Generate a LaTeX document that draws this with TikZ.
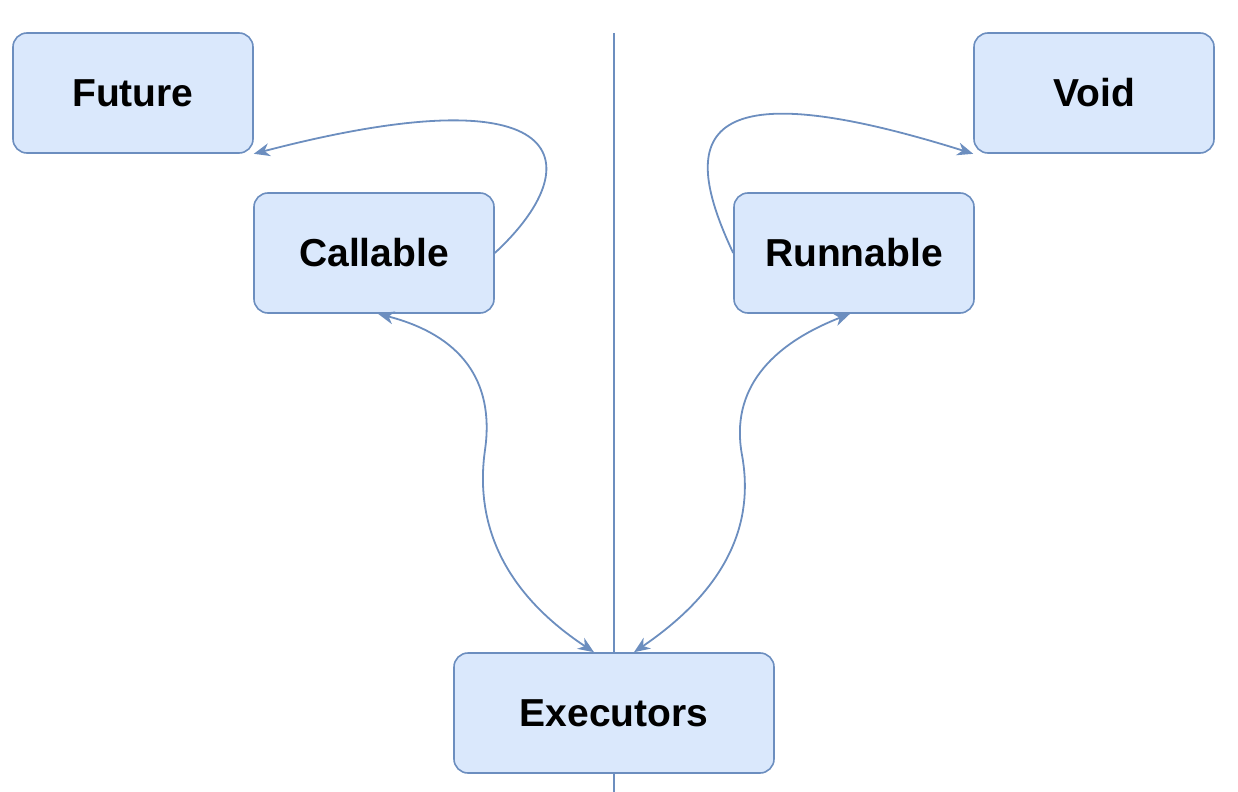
\documentclass[tikz,border=0pt]{standalone}
\usepackage{fontspec}
\setmainfont{Liberation Sans}
\usepackage{xcolor}
\usetikzlibrary{arrows.meta,positioning}

\definecolor{boxfill}{HTML}{DAE8FC}
\definecolor{boxline}{HTML}{6C8EBF}

\tikzset{
    box/.style={draw=boxline, fill=boxfill, line width=0.8pt, rounded corners=7pt,
        minimum width=120pt, minimum height=60pt, inner sep=0pt,
        font=\fontsize{19.5}{23}\selectfont\bfseries},
    link/.style={draw=boxline, line width=0.9pt,
        -{Stealth[length=8pt,width=6.5pt,inset=2.5pt]}},
    biLink/.style={link, {Stealth[length=8pt,width=6.5pt,inset=2.5pt]}-{Stealth[length=8pt,width=6.5pt,inset=2.5pt]}}
}

\begin{document}
\begin{tikzpicture}[x=0.5pt, y=-0.5pt]
    \useasboundingbox (0,0) rectangle (1238,792);

    % separator behind the boxes
    \coordinate (sepTop) at (614,33);
    \coordinate (sepBot) at (614,792);
    \draw[boxline, line width=0.9pt] (sepTop) -- (sepBot);

    \node[box] (future)   at (133,93)  {Future};
    \node[box] (void)     at (1094,93) {Void};
    \node[box] (callable) at (374,253) {Callable};
    \node[box] (runnable) at (854,253) {Runnable};
    \node[box, minimum width=160pt] (executors) at (614,713) {Executors};

    % returns
    \draw[link] (callable.east) .. controls (590,165) and (575,70) .. (future.south east);
    \draw[link] (runnable.west) .. controls (680,140) and (690,65) .. (void.south west);

    % submissions
    \draw[biLink] ([xshift=2pt]callable.south) .. controls (460,335) and (495,380) .. (485,450)
        .. controls (475,520) and (500,590) .. ([xshift=-10pt]executors.north);
    \draw[biLink] ([xshift=-2pt]runnable.south) .. controls (770,345) and (730,390) .. (742,455)
        .. controls (752,510) and (740,580) .. ([xshift=10pt]executors.north);
\end{tikzpicture}
\end{document}
